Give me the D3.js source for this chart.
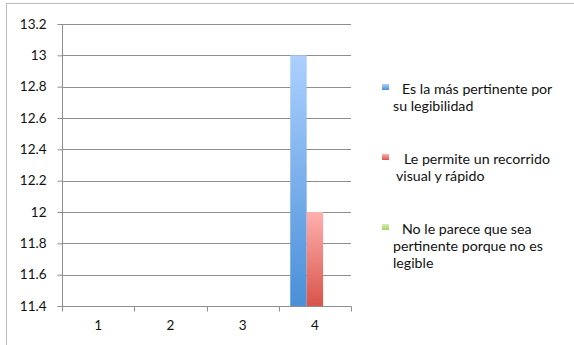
<!DOCTYPE html>
<html><head><meta charset="utf-8">
<script src="https://cdn.jsdelivr.net/npm/d3@7"></script>
<style>body{margin:0;background:#fff}svg{display:block}text{font-family:Lato,"Open Sans",sans-serif;fill:#111}</style>
</head><body>
<script>
const categories = ["1","2","3","4"];
const seriesNames = ["Es la más pertinente por su legibilidad","Le permite un recorrido visual y rápido","No le parece que sea pertinente porque no es legible"];
const legendLines = [["Es la más pertinente por","su legibilidad"],["Le permite un recorrido","visual y rápido"],["No le parece que sea","pertinente porque no es","legible"]];
const s1 = [0,0,0,13];
const s2 = [0,0,0,12];
const s3 = [0,0,0,0];
const yTicks = [11.4,11.6,11.8,12,12.2,12.4,12.6,12.8,13,13.2];
const values = [s1,s2,s3];

const W=574,H=345;
const svg=d3.select("body").append("svg").attr("width",W).attr("height",H);
const defs=svg.append("defs");
const grads=[["#acd0ff","#4a8fd8"],["#ffb0ae","#d9544a"],["#d8efa8","#a8d068"]];
grads.forEach((g,i)=>{const lg=defs.append("linearGradient").attr("id","g"+i).attr("x1",0).attr("y1",0).attr("x2",0).attr("y2",1);
 lg.append("stop").attr("offset","0%").attr("stop-color",g[0]);lg.append("stop").attr("offset","100%").attr("stop-color",g[1]);});
defs.append("clipPath").attr("id","clip").append("rect").attr("x",62).attr("y",24).attr("width",289).attr("height",282);

svg.append("rect").attr("x",6.5).attr("y",3.5).attr("width",580).attr("height",360).attr("fill","none").attr("stroke","#bcbcbc");

const x0=d3.scaleBand().domain(categories).range([62,351]).paddingInner(0).paddingOuter(0);
const x1=d3.scaleBand().domain([0,1,2]).range([0,x0.bandwidth()]).paddingInner(0).paddingOuter(0.7);
const y=d3.scaleLinear().domain([11.4,13.2]).range([306,24]);

// grid
svg.append("g").selectAll("line").data(yTicks).join("line")
 .attr("x1",62).attr("x2",351).attr("y1",d=>Math.round(y(d))+0.5).attr("y2",d=>Math.round(y(d))+0.5)
 .attr("stroke","#8e8e8e");

// bars
const gb=svg.append("g").attr("clip-path","url(#clip)");
categories.forEach((c,ci)=>{
 values.forEach((s,si)=>{
  const v=s[ci];
  if(v>y.domain()[0]){
   gb.append("rect").attr("x",x0(c)+x1(si)).attr("width",x1.bandwidth())
    .attr("y",y(v)).attr("height",y(y.domain()[0])-y(v)).attr("fill","url(#g"+si+")");
  }
 });
});

// y axis
const ya=svg.append("g").attr("transform","translate(62.5,0)")
 .call(d3.axisLeft(y).tickValues(yTicks).tickSize(5).tickPadding(11).tickFormat(d=>d3.format("")(+d.toFixed(1))));
ya.select(".domain").attr("stroke","#8e8e8e").attr("d","M0,24V306.5");
ya.selectAll(".tick line").attr("stroke","#8e8e8e");
ya.selectAll("text").attr("font-size",13.5).attr("fill","#111").attr("font-family","Lato");

// x axis
const xa=svg.append("g").attr("transform","translate(0,306.5)")
 .call(d3.axisBottom(x0).tickSize(0).tickPadding(14));
xa.select(".domain").attr("stroke","#8e8e8e").attr("d","M62,0H351.5");
xa.selectAll("text").attr("font-size",13.5).attr("fill","#111").attr("font-family","Lato");
const edges=categories.map(c=>x0(c)).concat([x0.range()[1]]);
xa.selectAll(".edge").data(edges).join("line").attr("class","edge")
 .attr("x1",d=>Math.round(d)+0.5).attr("x2",d=>Math.round(d)+0.5).attr("y1",0).attr("y2",5).attr("stroke","#8e8e8e");

// legend
const ly=[84,154,224];
const lg=svg.append("g");
legendLines.forEach((lines,i)=>{
 lg.append("rect").attr("x",382).attr("y",ly[i]).attr("width",7).attr("height",6).attr("fill","url(#g"+i+")");
 lines.forEach((t,j)=>{
  lg.append("text").attr("x",j===0?(i===1?404:402):(i===1?396:393)).attr("y",ly[i]+10+j*17)
   .attr("font-size",14.2).text(t);
 });
});
</script>
</body></html>
